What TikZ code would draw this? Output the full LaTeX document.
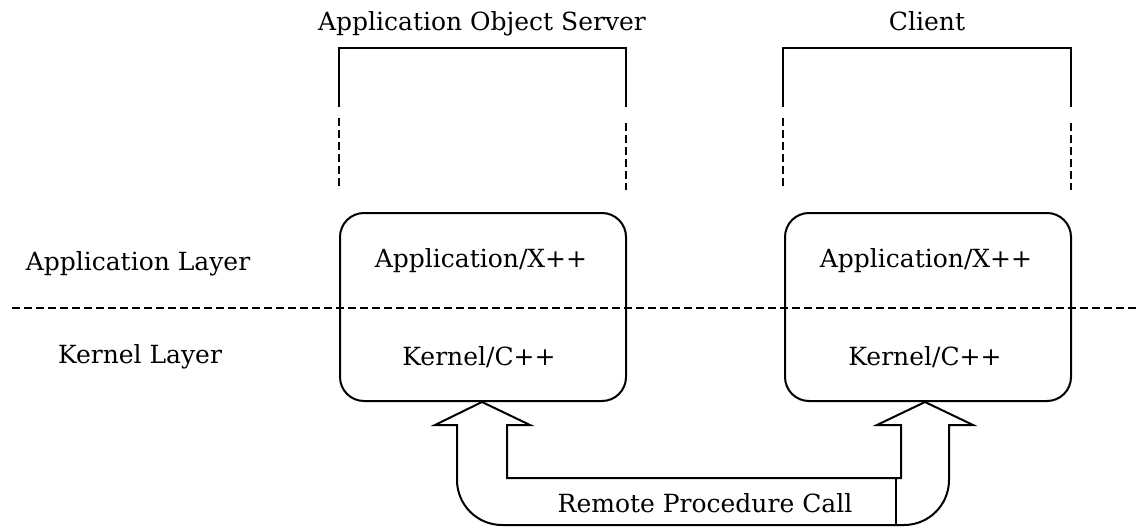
\documentclass[tikz,border=0pt]{standalone}
\usepackage{fontspec}
\setmainfont{DejaVu Serif}
\begin{document}
\begin{tikzpicture}[x=1pt,y=-1pt,
  every node/.style={font=\fontsize{25}{30}\selectfont, inner sep=0pt},
  solidline/.style={draw=black, line width=2pt},
  dashline/.style={draw=black, line width=2pt, dash pattern=on 8pt off 4pt},
  tier/.style={draw=black, line width=2pt, rounded corners=24pt,
               minimum width=286pt, minimum height=188pt},
  label/.style={anchor=base}]
  \useasboundingbox (0,0) rectangle (1138,527);

  % process tiers
  \node[tier] (srv) at (483,307) {};
  \node[tier] (cli) at (928,307) {};

  % titles and layer labels
  \node[label] (srvtitle) at (482,31) {Application Object Server};
  \node[label] (clititle) at (927,31) {Client};
  \node[label] (applayer) at (138,270) {Application Layer};
  \node[label] (kerlayer) at (140,363) {Kernel Layer};
  \node[label] (srvapp) at (481,267) {Application/X++};
  \node[label] (cliapp) at (926,267) {Application/X++};
  \node[label] (srvker) at (479,365) {Kernel/C++};
  \node[label] (cliker) at (925,365) {Kernel/C++};
  \node[label] (rpc) at (705,512) {Remote Procedure Call};

  % brackets over each tier
  \coordinate (sa) at (339,107); \coordinate (sb) at (339,48);
  \coordinate (sc) at (626,48);  \coordinate (sd) at (626,107);
  \draw[solidline] (sa) -- (sb) -- (sc) -- (sd);
  \coordinate (ca) at (783,107); \coordinate (cb) at (783,48);
  \coordinate (cc) at (1071,48); \coordinate (cd) at (1071,107);
  \draw[solidline] (ca) -- (cb) -- (cc) -- (cd);

  % dashed continuations
  \draw[dashline] (339,118) -- (339,188);
  \draw[dashline] (626,123) -- (626,190);
  \draw[dashline] (783,118) -- (783,188);
  \draw[dashline] (1071,123) -- (1071,190);

  % layer boundary
  \coordinate (bl) at (12,308);
  \coordinate (br) at (1138,308);
  \draw[dashline] (bl) -- (br);

  % remote procedure call double arrow
  \draw[solidline, line join=miter]
    (srv.south -| 482,0) -- (530,425) -- (507,425) -- (507,478)
    -- (901,478) -- (901,425) -- (877,425) -- (cli.south -| 925,0)
    -- (973,425) -- (949,425) -- (949,480) arc (0:90:45)
    -- (502,525) arc (90:180:45) -- (457,425) -- (435,425) -- cycle;
  \draw[solidline] (896,478) -- (896,525);
\end{tikzpicture}
\end{document}
